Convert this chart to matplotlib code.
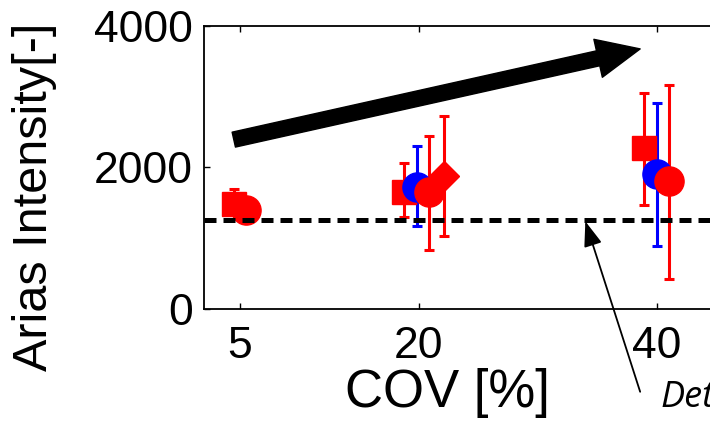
import matplotlib
matplotlib.use("Agg")
import matplotlib.pyplot as plt
from matplotlib.patches import FancyArrowPatch

plt.rcParams['font.family'] = ['Liberation Sans', 'DejaVu Sans']

# red squares
sq_x = [4.5, 18.75, 38.9]
sq_y = [1490, 1660, 2270]
sq_lo = [1350, 1300, 1465]
sq_hi = [1690, 2070, 3055]

# blue circles
bc_x = [19.9, 40.0]
bc_y = [1730, 1915]
bc_lo = [1170, 890]
bc_hi = [2310, 2915]

# red circles
rc_x = [5.5, 20.9, 41.0]
rc_y = [1395, 1650, 1805]
rc_lo = [1395, 830, 420]
rc_hi = [1395, 2450, 3170]

# red diamond
rd_x = [22.1]
rd_y = [1875]
rd_lo = [1030]
rd_hi = [2730]

det_level = 1265

fig = plt.figure(figsize=(7.1, 4.21), dpi=100)
ax = fig.add_axes([204/710, 112/421, 572/710, 283/421])


def err(y, lo, hi):
    return [[a - b for a, b in zip(y, lo)], [b - a for a, b in zip(y, hi)]]


ekw = dict(linestyle='none', elinewidth=2.2, capsize=3.6, capthick=2.2)
ax.errorbar(sq_x, sq_y, yerr=err(sq_y, sq_lo, sq_hi), marker='s', ms=17,
            color='red', mec='red', **ekw)
ax.errorbar(bc_x, bc_y, yerr=err(bc_y, bc_lo, bc_hi), marker='o', ms=21,
            color='blue', mec='blue', **ekw)
ax.errorbar(rc_x, rc_y, yerr=err(rc_y, rc_lo, rc_hi), marker='o', ms=21,
            color='red', mec='red', **ekw)
ax.errorbar(rd_x, rd_y, yerr=err(rd_y, rd_lo, rd_hi), marker='D', ms=15,
            color='red', mec='red', **ekw)

ax.axhline(det_level, color='black', lw=3.6, linestyle=(0, (2.4, 1.4)), zorder=5)

# big trend arrow
big = FancyArrowPatch((4.5, 2394), (38.6, 3676),
                      arrowstyle='simple,head_width=28,head_length=31,tail_width=11',
                      mutation_scale=1, color='black', shrinkA=0, shrinkB=0, zorder=6)
ax.add_patch(big)

# annotation arrow
ax.annotate('', xy=(34.0, 1239), xytext=(38.6, -1170),
            arrowprops=dict(arrowstyle='-|>,head_length=1.1,head_width=0.4',
                            color='black', lw=1.3, shrinkA=0, shrinkB=0,
                            mutation_scale=14),
            annotation_clip=False, zorder=7)
ax.text(40.3, -1380, 'Deterministic', fontsize=26, style='italic',
        family=['Open Sans', 'DejaVu Sans'], ha='left', va='baseline', clip_on=False)

ax.set_xlim(2, 50)
ax.set_ylim(0, 4000)
ax.set_xticks([5, 20, 40])
ax.set_yticks([0, 2000, 4000])
ax.tick_params(direction='in', length=4, width=1, top=True, right=True,
               labelsize=32, pad=8)
ax.tick_params(axis='x', pad=12)
for s in ax.spines.values():
    s.set_linewidth(1.3)

fig.text(447/710, 1 - 393/421, 'COV [%]', fontsize=38, ha='center', va='center')
fig.text(35/710, 1 - 197/421, 'Arias Intensity[-]', fontsize=35, rotation=90,
         ha='center', va='center')

fig.savefig('out.png', dpi=100)
